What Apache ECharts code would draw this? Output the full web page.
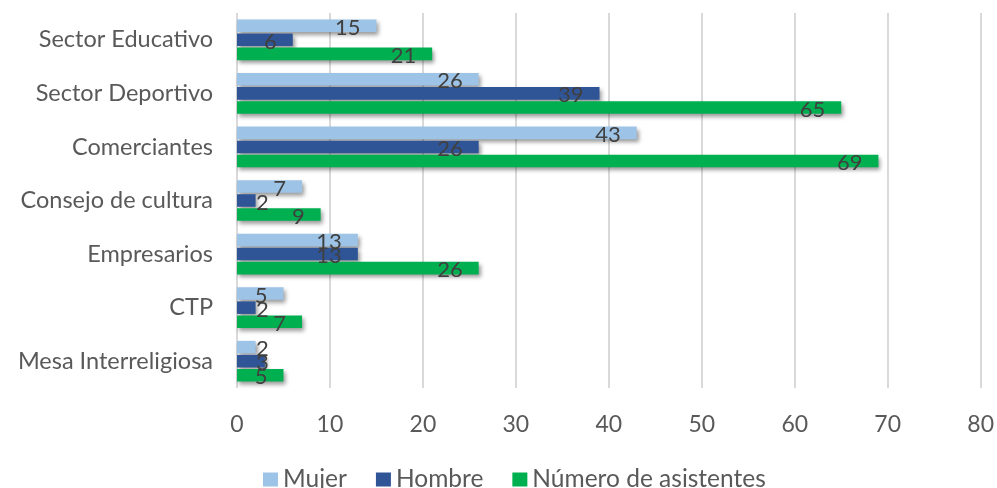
<!DOCTYPE html>
<html>
<head>
<meta charset="utf-8">
<script src="https://cdn.jsdelivr.net/npm/echarts@6/dist/echarts.min.js"></script>
<style>
  html, body { margin: 0; padding: 0; background: #fff; }
  #chart { width: 997px; height: 488px; }
</style>
</head>
<body>
<div id="chart"></div>
<script>
// Participantes por sector
const categories = ['Sector Educativo', 'Sector Deportivo', 'Comerciantes', 'Consejo de cultura', 'Empresarios', 'CTP', 'Mesa Interreligiosa'];
const mujer = [15, 26, 43, 7, 13, 5, 2];
const hombre = [6, 39, 26, 2, 13, 2, 3];
const asistentes = [21, 65, 69, 9, 26, 7, 5];
const xTicks = [0, 10, 20, 30, 40, 50, 60, 70, 80];

const FONT = 'Lato';
const TEXT = '#595959';

// Short bars can't hold their label inside the end, so it sits just past the bar start instead
function points(values) {
  return values.map(v => {
    if (v <= 3) {
      return { value: v, label: { position: 'insideLeft', distance: 19 } };
    }
    return { value: v };
  });
}

function barSeries(name, values, color) {
  return {
    name: name,
    type: 'bar',
    data: points(values),
    barCategoryGap: '24%',
    barGap: '12%',
    itemStyle: {
      color: color,
      shadowColor: 'rgba(0,0,0,0.4)',
      shadowBlur: 4,
      shadowOffsetX: 2,
      shadowOffsetY: 3
    },
    label: {
      show: true,
      position: 'insideRight',
      distance: 16,
      offset: [0, 2],
      color: '#404040',
      fontFamily: FONT,
      fontSize: 22
    }
  };
}

const chart = echarts.init(document.getElementById('chart'));
chart.setOption({
  animation: false,
  grid: { left: 237, right: 14, top: 13, bottom: 100, containLabel: false },
  legend: {
    top: 467,
    left: 263,
    padding: 0,
    icon: 'rect',
    itemWidth: 15,
    itemHeight: 14,
    itemGap: 29,
    textStyle: { color: TEXT, fontFamily: FONT, fontSize: 24.5 },
    data: ['Mujer', 'Hombre', 'Número de asistentes']
  },
  xAxis: {
    type: 'value',
    min: xTicks[0],
    max: xTicks[xTicks.length - 1],
    interval: xTicks[1] - xTicks[0],
    axisLine: { show: false },
    axisTick: { show: false },
    axisLabel: { color: TEXT, fontFamily: FONT, fontSize: 23, margin: 25 },
    splitLine: { show: true, lineStyle: { color: '#d9d9d9', width: 2 } }
  },
  yAxis: {
    type: 'category',
    inverse: true,
    data: categories,
    axisLine: { show: false },
    axisTick: { show: false },
    axisLabel: { color: TEXT, fontFamily: FONT, fontSize: 23.5, margin: 24 }
  },
  series: [
    barSeries('Mujer', mujer, '#9dc3e6'),
    barSeries('Hombre', hombre, '#2f5597'),
    barSeries('Número de asistentes', asistentes, '#00b050')
  ]
});
</script>
</body>
</html>
